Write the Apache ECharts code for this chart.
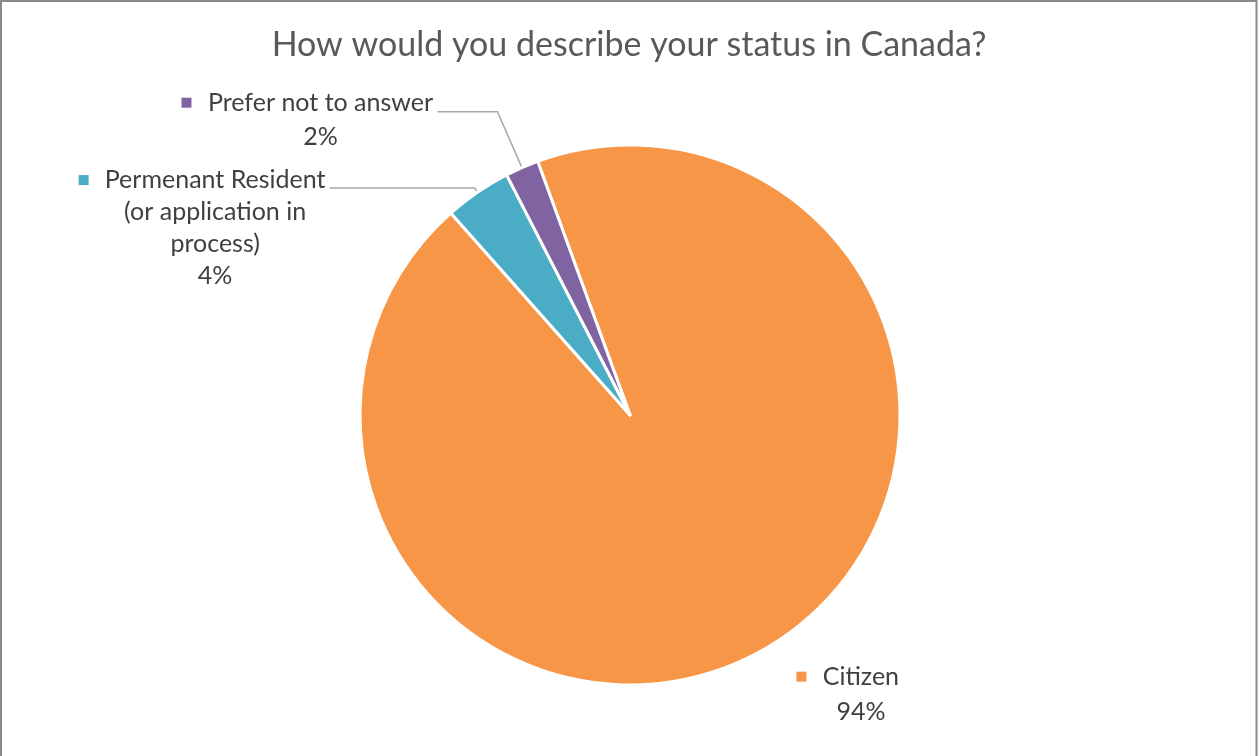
<!DOCTYPE html>
<html>
<head>
<meta charset="utf-8">
<script src="https://cdn.jsdelivr.net/npm/echarts@6/dist/echarts.min.js"></script>
<style>
  html, body { margin: 0; padding: 0; background: #ffffff; }
  #chart { width: 1258px; height: 756px; }
</style>
</head>
<body>
<div id="chart"></div>
<script>
// Survey answers and their shares (percent)
const categories = ['Citizen', 'Permenant Resident\n(or application in\nprocess)', 'Prefer not to answer'];
const shares = [94, 4, 2];
const colors = ['#F79646', '#4BACC6', '#8064A2'];

const FONT = 'Lato, "Open Sans", sans-serif';
const LABEL_SIZE = 25;
const TEXT_COLOR = '#404040';

// Width of the name column, so each name block and its percent share one centre line
const measureCtx = document.createElement('canvas').getContext('2d');
measureCtx.font = LABEL_SIZE + 'px ' + FONT;
function textWidth(s) { return Math.ceil(measureCtx.measureText(s).width) + 2; }

// Per-slice label placement: leader line lengths, line height and top padding
const labelPlacement = [
  { length: 55, length2: 0, gap: 0, lineHeight: 35, padTop: 0, line: false },
  { length: 5, length2: 145, gap: 3, lineHeight: 32, padTop: 80, line: true },
  { length: 61, length2: 60, gap: 3, lineHeight: 34, padTop: 16, line: true }
];

const data = categories.map((name, i) => {
  const lines = name.split('\n');
  const pct = shares[i] + '%';
  const w = Math.max(...lines.map(textWidth), textWidth(pct));
  const p = labelPlacement[i];
  const rows = lines.map((ln, k) => (k === 0 ? '{m|}{g|}' : '{s|}') + '{n|' + ln + '}');
  rows.push('{s|}{n|' + pct + '}');
  return {
    name: name,
    value: shares[i],
    itemStyle: { color: colors[i] },
    labelLine: { show: p.line, length: p.length, length2: p.length2 },
    label: {
      distanceToLabelLine: p.gap,
      padding: [p.padTop, 0, 0, 0],
      formatter: rows.join('\n'),
      rich: {
        m: { width: 10, height: 10, backgroundColor: colors[i] },
        g: { width: 15 },
        s: { width: 25 },
        n: { width: w, align: 'center', lineHeight: p.lineHeight,
             fontSize: LABEL_SIZE, fontFamily: FONT, color: TEXT_COLOR }
      }
    }
  };
});

const chart = echarts.init(document.getElementById('chart'), null, { renderer: 'canvas' });
chart.setOption({
  backgroundColor: '#ffffff',
  animation: false,
  title: {
    text: 'How would you describe your status in Canada?',
    left: 'center',
    top: 23,
    textStyle: { fontFamily: FONT, fontSize: 34, fontWeight: 'normal', color: '#595959' }
  },
  graphic: [
    { type: 'polyline', silent: true,
      shape: { points: [[1, 756], [1, 1], [1256.5, 1], [1256.5, 756]] },
      style: { stroke: '#8a8a8a', lineWidth: 2, fill: null } }
  ],
  series: [{
    type: 'pie',
    center: [630, 415],
    radius: 270,
    startAngle: 110,
    clockwise: true,
    avoidLabelOverlap: false,
    label: {
      show: true,
      position: 'outside',
      fontFamily: FONT,
      fontSize: LABEL_SIZE,
      color: TEXT_COLOR
    },
    labelLine: { lineStyle: { color: '#a6a6a6', width: 1.5 } },
    itemStyle: { borderColor: '#ffffff', borderWidth: 3 },
    emphasis: { scale: false },
    data: data
  }]
});
</script>
</body>
</html>
